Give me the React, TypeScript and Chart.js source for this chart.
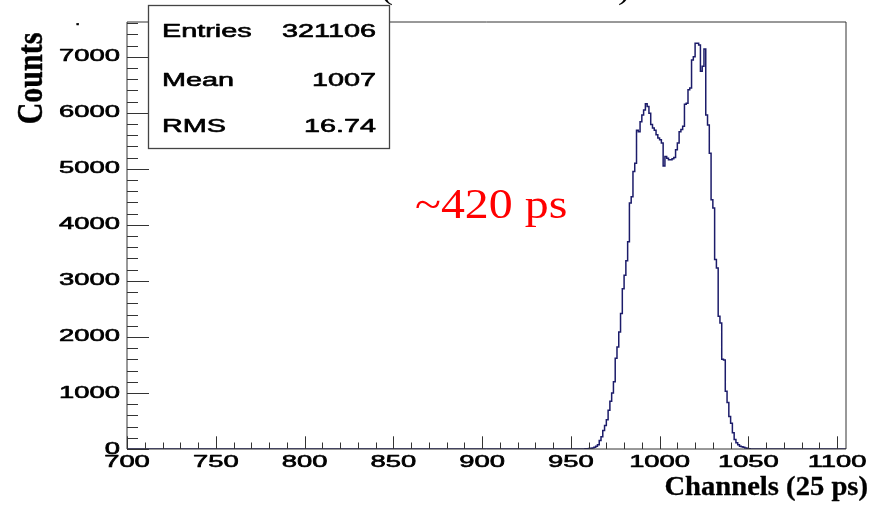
import React, { useEffect, useRef } from "react";
import { Chart, registerables } from "chart.js";

Chart.register(...registerables);

// ---- data ----
const FIRST_CHANNEL = 958; // channel of counts[0]; bins are 1 channel wide
const counts = [
  3, 5, 8, 12, 20, 30, 50, 75, 150, 220, // 958-967
  330, 420, 520, 690, 850, 1000, 1200, 1620, 1820, 2090, // 968-977
  2420, 2860, 3100, 3360, 3700, 4390, 4500, 4950, 5100, 5690, // 978-987
  5660, 5840, 5960, 6050, 6160, 6110, 5990, 5790, 5730, 5690, // 988-997
  5610, 5550, 5520, 5460, 5050, 5220, 5190, 5160, 5160, 5180, // 998-1007
  5200, 5340, 5460, 5660, 5700, 5760, 6150, 6170, 6410, 6440, // 1008-1017
  6940, 7000, 7240, 7240, 7210, 6740, 6830, 7140, 5960, 5780, // 1018-1027
  5280, 4450, 4300, 3380, 3230, 2370, 2250, 1600, 1590, 1030, // 1028-1037
  830, 580, 460, 290, 170, 110, 75, 50, 40, 30, // 1038-1047
  20, 12, 6, // 1048-1050
];
const X_MIN = 700;
const X_MAX = 1105;
const Y_MIN = 0;
const Y_MAX = 7620;
const xTickLabels = [700, 750, 800, 850, 900, 950, 1000, 1050, 1100];
const yTickLabels = [0, 1000, 2000, 3000, 4000, 5000, 6000, 7000];
const X_MINOR_STEP = 10;
const Y_MINOR_STEP = 200;
const statsRows = [
  ["Entries", "321106"],
  ["Mean", "1007"],
  ["RMS", "16.74"],
];
const xTitle = "Channels (25 ps)";
const yTitle = "Counts";
const annotation = "~420 ps";

const AXIS_COLOR = "#333333";
const LINE_COLOR = "#1c1c6a";
const SANS = '"Liberation Sans", Arial, sans-serif';
const SERIF = '"Liberation Serif", "Times New Roman", serif';

function drawText(
  ctx: CanvasRenderingContext2D,
  text: string,
  x: number,
  y: number,
  font: string,
  sx: number,
  align: CanvasTextAlign,
  baseline: CanvasTextBaseline,
  color: string,
  thicken = 0
) {
  ctx.save();
  ctx.font = font;
  ctx.fillStyle = color;
  ctx.strokeStyle = color;
  ctx.textAlign = align;
  ctx.textBaseline = baseline;
  ctx.translate(x, y);
  ctx.scale(sx, 1);
  ctx.fillText(text, 0, 0);
  if (thicken > 0) {
    ctx.lineWidth = thicken;
    ctx.lineJoin = "round";
    ctx.strokeText(text, 0, 0);
  }
  ctx.restore();
}

const rootStylePlugin = {
  id: "rootStyle",
  afterDatasetsDraw(chart: any) {
    const ctx: CanvasRenderingContext2D = chart.ctx;
    const { left, right, top, bottom } = chart.chartArea;
    const xs = chart.scales.x;
    const ys = chart.scales.y;
    ctx.save();
    ctx.strokeStyle = AXIS_COLOR;
    ctx.lineWidth = 1;
    // frame
    ctx.beginPath();
    ctx.moveTo(left, top);
    ctx.lineTo(right, top);
    ctx.lineTo(right, bottom);
    ctx.moveTo(left, top);
    ctx.lineTo(left, bottom);
    ctx.lineTo(right, bottom);
    ctx.stroke();

    // x ticks
    ctx.beginPath();
    for (let v = X_MIN; v <= X_MAX; v += X_MINOR_STEP) {
      const px = Math.round(xs.getPixelForValue(v)) + 0.5;
      const major = v % 50 === 0;
      const len = major ? 12.7 : 6.5;
      ctx.moveTo(px, bottom);
      ctx.lineTo(px, bottom - len);
    }
    // y ticks
    for (let v = Y_MIN; v <= Y_MAX; v += Y_MINOR_STEP) {
      const py = Math.round(ys.getPixelForValue(v)) + 0.5;
      const major = v % 1000 === 0;
      const len = major ? 22 : 11;
      ctx.moveTo(left, py);
      ctx.lineTo(left + len, py);
    }
    ctx.stroke();

    // tick labels
    const tickFont = `16.5px ${SANS}`;
    for (const v of xTickLabels) {
      drawText(ctx, String(v), xs.getPixelForValue(v), 462, tickFont, 1.66, "center", "middle", "#000", 0.6);
    }
    for (const v of yTickLabels) {
      drawText(ctx, String(v), left - 7, ys.getPixelForValue(v), tickFont, 1.66, "right", "middle", "#000", 0.6);
    }

    // axis titles
    drawText(ctx, xTitle, 868, 495, `bold 27px ${SERIF}`, 1.06, "right", "alphabetic", "#000", 0.3);
    ctx.save();
    ctx.font = `bold 30px ${SERIF}`;
    ctx.fillStyle = "#000";
    ctx.strokeStyle = "#000";
    ctx.lineWidth = 0.4;
    ctx.translate(42, 78.5);
    ctx.scale(1.2, 1);
    ctx.rotate(-Math.PI / 2);
    ctx.textAlign = "center";
    ctx.textBaseline = "alphabetic";
    ctx.fillText(yTitle, 0, 0);
    ctx.strokeText(yTitle, 0, 0);
    ctx.restore();

    // title fragments (cut off at the top)
    drawText(ctx, "(", 381, -1, `30px ${SERIF}`, 1.2, "left", "alphabetic", "#000");
    drawText(ctx, ")", 618, -1, `30px ${SERIF}`, 1.2, "left", "alphabetic", "#000");
    drawText(ctx, ".", 75, 25, `16px ${SANS}`, 1.2, "left", "alphabetic", "#000", 0.5);

    // annotation
    drawText(ctx, annotation, 415, 218, `42px ${SERIF}`, 1.14, "left", "alphabetic", "#ff0000");

    // stats box
    ctx.fillStyle = "#ffffff";
    ctx.fillRect(148.5, 5.5, 241, 143);
    ctx.strokeStyle = "#444444";
    ctx.lineWidth = 1.3;
    ctx.strokeRect(148.5, 5.5, 241, 143);
    const statBase = [37.3, 85.7, 131.7];
    const statFont = `18px ${SANS}`;
    statsRows.forEach((row, i) => {
      drawText(ctx, row[0], 162, statBase[i], statFont, 1.6, "left", "alphabetic", "#000", 0.6);
      drawText(ctx, row[1], 376, statBase[i], statFont, 1.6, "right", "alphabetic", "#000", 0.6);
    });
    ctx.restore();
  },
};

export default function App() {
  const canvasRef = useRef<HTMLCanvasElement | null>(null);

  useEffect(() => {
    const canvas = canvasRef.current;
    if (!canvas) return;
    const points: { x: number; y: number }[] = [{ x: X_MIN, y: 0 }];
    counts.forEach((v, i) => points.push({ x: FIRST_CHANNEL + i, y: v }));
    points.push({ x: FIRST_CHANNEL + counts.length, y: 0 });
    points.push({ x: X_MAX, y: 0 });

    const chart = new Chart(canvas, {
      type: "line",
      data: {
        datasets: [
          {
            data: points,
            stepped: "before",
            borderColor: LINE_COLOR,
            borderWidth: 1.5,
            pointRadius: 0,
            fill: false,
          },
        ],
      },
      options: {
        responsive: false,
        devicePixelRatio: 1,
        animation: false,
        layout: { padding: { left: 127, right: 36, top: 22, bottom: 61 } },
        scales: {
          x: { type: "linear", min: X_MIN, max: X_MAX, display: false },
          y: { type: "linear", min: Y_MIN, max: Y_MAX, display: false },
        },
        plugins: {
          legend: { display: false },
          tooltip: { enabled: false },
        },
      },
      plugins: [rootStylePlugin],
    } as any);
    return () => chart.destroy();
  }, []);

  return (
    <div style={{ position: "absolute", left: 0, top: 0, width: 882, height: 510, background: "#fff" }}>
      <canvas ref={canvasRef} width={882} height={510} style={{ display: "block" }} />
    </div>
  );
}
